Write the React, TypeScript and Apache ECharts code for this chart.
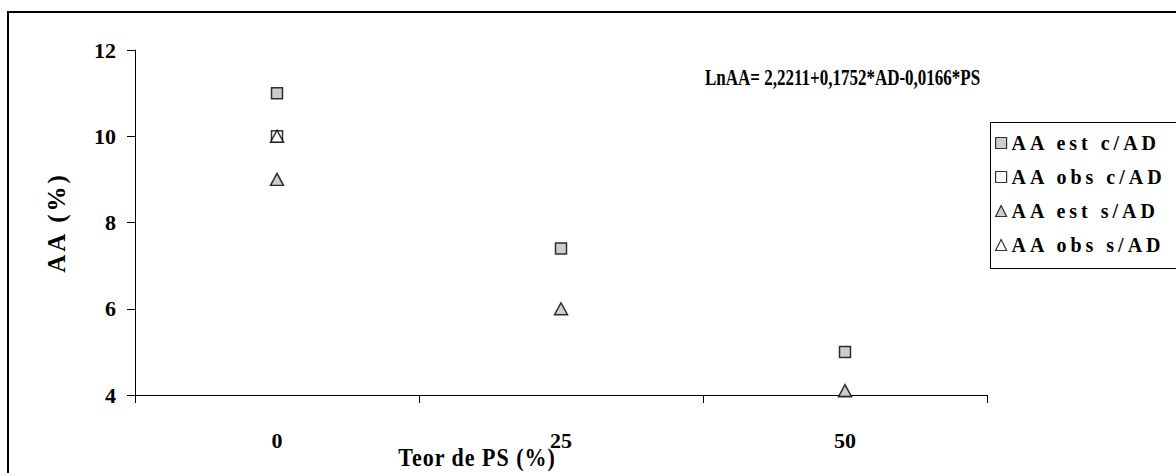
import React, { useEffect, useRef } from 'react';
import * as echarts from 'echarts';

// ---- data ----
const categories = ['0', '25', '50'];
const estCAD = [11.0, 7.4, 5.0];
const obsCAD: (number | string)[] = [10.0, '-', '-'];
const estSAD = [9.0, 6.0, 4.1];
const obsSAD: (number | string)[] = [10.0, '-', '-'];
const yMin = 4;
const yMax = 12;
const yInterval = 2;
const seriesNames = ['AA est c/AD', 'AA obs c/AD', 'AA est s/AD', 'AA obs s/AD'];
const equation = 'LnAA= 2,2211+0,1752*AD-0,0166*PS';
const xTitle = 'Teor de PS (%)';
const yTitle = 'AA (%)';

const FONT = "'Liberation Serif', 'Times New Roman', serif";

const spacing: Record<string, number> = {
  'AA est c/AD': 4,
  'AA obs c/AD': 4,
  'AA est s/AD': 4,
  'AA obs s/AD': 4,
  'AA (%)': 3,
  'Teor de PS (%)': 1,
};

function applySpacing(el: HTMLElement | null) {
  if (!el) return;
  el.querySelectorAll('text').forEach((t) => {
    const s = spacing[(t.textContent || '').trim()];
    if (s !== undefined) t.setAttribute('letter-spacing', String(s));
  });
}

export default function App() {
  const ref = useRef<HTMLDivElement>(null);
  useEffect(() => {
    if (!ref.current) return;
    const chart = echarts.init(ref.current, null, { renderer: 'svg' });
    const markerBorder = { borderColor: '#000', borderWidth: 1.5 };
    chart.setOption({
      animation: false,
      backgroundColor: '#fff',
      grid: { left: 135, right: 189, top: 50, bottom: 78, containLabel: false },
      xAxis: {
        type: 'category',
        data: categories,
        boundaryGap: true,
        axisLine: { show: true, lineStyle: { color: '#000', width: 1 } },
        axisTick: { show: true, length: 8, alignWithLabel: false, lineStyle: { color: '#000' } },
        axisLabel: { margin: 34, color: '#000', fontFamily: FONT, fontWeight: 'bold', fontSize: 22 },
        splitLine: { show: false },
      },
      yAxis: {
        type: 'value',
        min: yMin,
        max: yMax,
        interval: yInterval,
        name: yTitle,
        nameLocation: 'middle',
        nameGap: 66,
        nameRotate: 90,
        nameTextStyle: { color: '#000', fontFamily: FONT, fontWeight: 'bold', fontSize: 25 },
        axisLine: { show: true, lineStyle: { color: '#000', width: 1 } },
        axisTick: { show: true, length: 8, lineStyle: { color: '#000' } },
        axisLabel: { margin: 19, color: '#000', fontFamily: FONT, fontWeight: 'bold', fontSize: 22 },
        splitLine: { show: false },
      },
      legend: {
        orient: 'vertical',
        left: 995,
        top: 133,
        padding: 0,
        itemWidth: 11,
        itemHeight: 11,
        itemGap: 14,
        itemStyle: { borderColor: '#000', borderWidth: 1.2 },
        textStyle: { color: '#000', fontFamily: FONT, fontWeight: 'bold', fontSize: 20 },
        data: seriesNames,
      },
      graphic: [
        {
          type: 'rect',
          shape: { x: 8, y: 12, width: 1400, height: 700 },
          style: { fill: 'none', stroke: '#000', lineWidth: 2 },
          silent: true,
        },
        {
          type: 'rect',
          shape: { x: 990.5, y: 122.5, width: 300, height: 146 },
          style: { fill: 'none', stroke: '#000', lineWidth: 1 },
          silent: true,
        },
        {
          type: 'text',
          x: 705,
          y: 77,
          scaleY: 1.3,
          style: {
            text: equation,
            fill: '#000',
            font: `bold 17px ${FONT}`,
            textAlign: 'left',
            textVerticalAlign: 'middle',
          },
        },
        {
          type: 'text',
          x: 477,
          y: 458,
          scaleY: 1.12,
          style: {
            text: xTitle,
            fill: '#000',
            font: `bold 22px ${FONT}`,
            textAlign: 'center',
            textVerticalAlign: 'middle',
          },
        },
      ],
      series: [
        {
          name: seriesNames[0],
          type: 'scatter',
          symbol: 'rect',
          symbolSize: 11,
          clip: false,
          itemStyle: { color: '#c0c0c0', ...markerBorder },
          data: estCAD,
        },
        {
          name: seriesNames[1],
          type: 'scatter',
          symbol: 'rect',
          symbolSize: 11,
          clip: false,
          itemStyle: { color: '#ffffff', ...markerBorder },
          data: obsCAD,
        },
        {
          name: seriesNames[2],
          type: 'scatter',
          symbol: 'triangle',
          symbolSize: [13, 12],
          clip: false,
          itemStyle: { color: '#c0c0c0', ...markerBorder },
          data: estSAD,
        },
        {
          name: seriesNames[3],
          type: 'scatter',
          symbol: 'triangle',
          symbolSize: [13, 12],
          clip: false,
          itemStyle: { color: '#ffffff', ...markerBorder },
          data: obsSAD,
        },
      ],
    });
    applySpacing(ref.current);
    const onFinished = () => applySpacing(ref.current);
    chart.on('finished', onFinished);
    return () => {
      chart.off('finished', onFinished);
      chart.dispose();
    };
  }, []);
  return (
    <div
      ref={ref}
      style={{ position: 'fixed', left: 0, top: 0, width: 1176, height: 473, background: '#fff' }}
    />
  );
}
